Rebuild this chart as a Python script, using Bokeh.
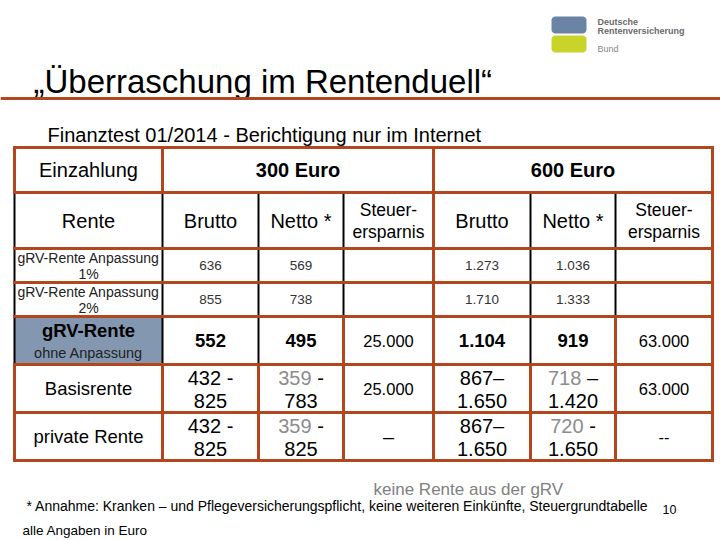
from bokeh.plotting import figure
from bokeh.models import Range1d
from bokeh.core.properties import value
from bokeh.embed import file_html
from bokeh.resources import INLINE
import numpy as np

# ---------------- data ----------------
title = "„Überraschung im Rentenduell“"
subtitle = "Finanztest 01/2014 - Berichtigung nur im Internet"
einzahlung_label = "Einzahlung"
group_labels = ["300 Euro", "600 Euro"]
rente_label = "Rente"
col_heads = ["Brutto", "Netto *", "Steuer-\nersparnis"]
row_labels = ["gRV-Rente Anpassung\n1%", "gRV-Rente Anpassung\n2%",
              "gRV-Rente\nohne Anpassung", "Basisrente", "private Rente"]
brutto_300 = ["636", "855", "552", "432 -\n825", "432 -\n825"]
netto_300 = ["569", "738", "495", "359| -\n783", "359| -\n825"]
steuer_300 = ["", "", "25.000", "25.000", "–"]
brutto_600 = ["1.273", "1.710", "1.104", "867–\n1.650", "867–\n1.650"]
netto_600 = ["1.036", "1.333", "919", "718| –\n1.420", "720| -\n1.650"]
steuer_600 = ["", "", "63.000", "63.000", "--"]
note_grv = "keine Rente aus der gRV"
footnote = "* Annahme: Kranken – und Pflegeversicherungspflicht, keine weiteren Einkünfte, Steuergrundtabelle"
page_no = "10"
all_euro = "alle Angaben in Euro"
logo_lines = ["Deutsche", "Rentenversicherung", "Bund"]

# ---------------- layout ----------------
ORANGE = "#B4461E"
BLACK = "#000000"
FILL = "#8497B0"
SANS = "Liberation Sans"

xe = [14, 162, 258, 343, 433, 530, 615, 712]
ye = [147, 192, 248, 282, 316, 364, 412, 460]

p = figure(width=720, height=540, output_backend="svg", toolbar_location=None,
           x_range=Range1d(0, 720), y_range=Range1d(540, 0), min_border=0)
p.axis.visible = False
p.grid.visible = False
p.outline_line_color = None
p.background_fill_color = "white"


def txt(x, y, s, size, color="#000000", bold=False, align="center",
        baseline="middle", font=SANS):
    p.text(x=[x], y=[y], text=[s], text_font=value(font),
           text_font_size=f"{size}px", text_color=color,
           text_font_style="bold" if bold else "normal",
           text_align=align, text_baseline=baseline)


# Arial-like widths for splitting a grey number from a black dash
W = {c: 0.556 for c in "0123456789–"}
W.update({" ": 0.278, "\u00a0": 0.278, "-": 0.333, ".": 0.278})


def width(s, size):
    return sum(W.get(c, 0.55) for c in s) * size


def cell_line(cx, y, s, size, bold=False, color="#000000"):
    if "|" in s:
        a, b = s.split("|")
        b = b.replace(" ", "\u00a0")
        total = width(a, size) + width(b, size)
        split_x = cx - total / 2 + width(a, size)
        txt(split_x, y, a, size, color="#8C8C8C", bold=bold, align="right")
        txt(split_x, y, b, size, color=color, bold=bold, align="left")
    else:
        txt(cx, y, s, size, color=color, bold=bold)


# header logo
def rounded(x0, x1, y0, y1, r, n=8):
    xs, ys = [], []
    corners = [(x1 - r, y0 + r, -90, 0), (x1 - r, y1 - r, 0, 90),
               (x0 + r, y1 - r, 90, 180), (x0 + r, y0 + r, 180, 270)]
    for cx, cy, a0, a1 in corners:
        t = np.radians(np.linspace(a0, a1, n))
        xs += list(cx + r * np.cos(t))
        ys += list(cy + r * np.sin(t))
    return xs, ys


bx, by = rounded(551, 586, 16, 33, 4)
p.patch(bx, by, fill_color="#6B84A5", line_color=None)
gx, gy = rounded(551, 586, 35, 52, 4)
p.patch(gx, gy, fill_color="#C9D42B", line_color=None)
txt(597, 21, logo_lines[0], 9, color="#6A6A6A", bold=True, align="left")
txt(597, 30, logo_lines[1], 9, color="#6A6A6A", bold=True, align="left")
txt(597, 48, logo_lines[2], 9, color="#888888", align="left")

# title and rule
txt(33, 81, title, 33, align="left", baseline="alphabetic")
p.segment(x0=[0], y0=[98], x1=[720], y1=[98], line_color=ORANGE, line_width=3)
txt(47, 134, subtitle, 20, align="left", baseline="alphabetic")

# gRV fill
p.quad(left=[xe[0]], right=[xe[1]], top=[ye[4]], bottom=[ye[5]],
       fill_color=FILL, line_color=None)

# vertical lines
black_v, orange_v = [], []
for x in [xe[0], xe[1], xe[4], xe[7]]:
    orange_v.append((x, ye[0], ye[1]))
for x in xe:
    if x in (xe[4], xe[7]):
        orange_v.append((x, ye[1], ye[4]))
    else:
        black_v.append((x, ye[1], ye[4]))
for x in xe:
    if x in (xe[3], xe[4], xe[6], xe[7]):
        orange_v.append((x, ye[4], ye[5]))
    else:
        black_v.append((x, ye[4], ye[5]))
for x in xe:
    orange_v.append((x, ye[5], ye[7]))

p.segment(x0=[v[0] for v in black_v], y0=[v[1] for v in black_v],
          x1=[v[0] for v in black_v], y1=[v[2] for v in black_v],
          line_color=BLACK, line_width=2)
p.segment(x0=[v[0] for v in orange_v], y0=[v[1] - 1.5 for v in orange_v],
          x1=[v[0] for v in orange_v], y1=[v[2] + 1.5 for v in orange_v],
          line_color=ORANGE, line_width=3)
p.segment(x0=[xe[0] - 1.5] * len(ye), y0=ye, x1=[xe[-1] + 1.5] * len(ye), y1=ye,
          line_color=ORANGE, line_width=3)

# header row 1
r1 = (ye[0] + ye[1]) / 2
txt((xe[0] + xe[1]) / 2, r1, einzahlung_label, 20)
txt((xe[1] + xe[4]) / 2, r1, group_labels[0], 20, bold=True)
txt((xe[4] + xe[7]) / 2, r1, group_labels[1], 20, bold=True)

# header row 2
r2 = (ye[1] + ye[2]) / 2
txt((xe[0] + xe[1]) / 2, r2, rente_label, 20)
for g in range(2):
    for j, h in enumerate(col_heads):
        ci = 1 + g * 3 + j
        cx = (xe[ci] + xe[ci + 1]) / 2
        lines = h.split("\n")
        if len(lines) == 1:
            txt(cx, r2, lines[0], 20)
        else:
            txt(cx, r2 - 11, lines[0], 17.5)
            txt(cx, r2 + 11, lines[1], 17.5)

# body
cols = [brutto_300, netto_300, steuer_300, brutto_600, netto_600, steuer_600]
for i, lab in enumerate(row_labels):
    cy = (ye[2 + i] + ye[3 + i]) / 2
    lx = (xe[0] + xe[1]) / 2
    parts = lab.split("\n")
    if i < 2:
        txt(lx, cy - 8, parts[0], 14, color="#222222")
        txt(lx, cy + 8, parts[1], 14, color="#222222")
    elif i == 2:
        txt(lx, cy - 10, parts[0], 18.5, bold=True)
        txt(lx, cy + 12, parts[1], 14.5, color="#222222")
    else:
        txt(lx, cy, parts[0], 18.5)
    for j, col in enumerate(cols):
        s = col[i]
        if not s:
            continue
        cx = (xe[1 + j] + xe[2 + j]) / 2
        steuer = j in (2, 5)
        if i < 2:
            cell_line(cx, cy, s, 13.5, color="#333333")
        elif i == 2:
            if steuer:
                cell_line(cx, cy, s, 16.5)
            else:
                cell_line(cx, cy, s, 18.5, bold=True)
        else:
            ls = s.split("\n")
            if len(ls) == 1:
                cell_line(cx, cy, ls[0], 16.5 if ls[0] != "–" else 20)
            else:
                cell_line(cx, cy - 11, ls[0], 20)
                cell_line(cx, cy + 12, ls[1], 20)

# footer
txt(373, 489, note_grv, 17, color="#808080", align="left", baseline="alphabetic")
txt(26, 505, footnote, 14, align="left", baseline="alphabetic")
txt(662, 509, page_no, 12.5, align="left", baseline="alphabetic")
txt(22, 530, all_euro, 13.5, align="left", baseline="alphabetic")

open("out.html", "w").write(file_html(p, INLINE))
